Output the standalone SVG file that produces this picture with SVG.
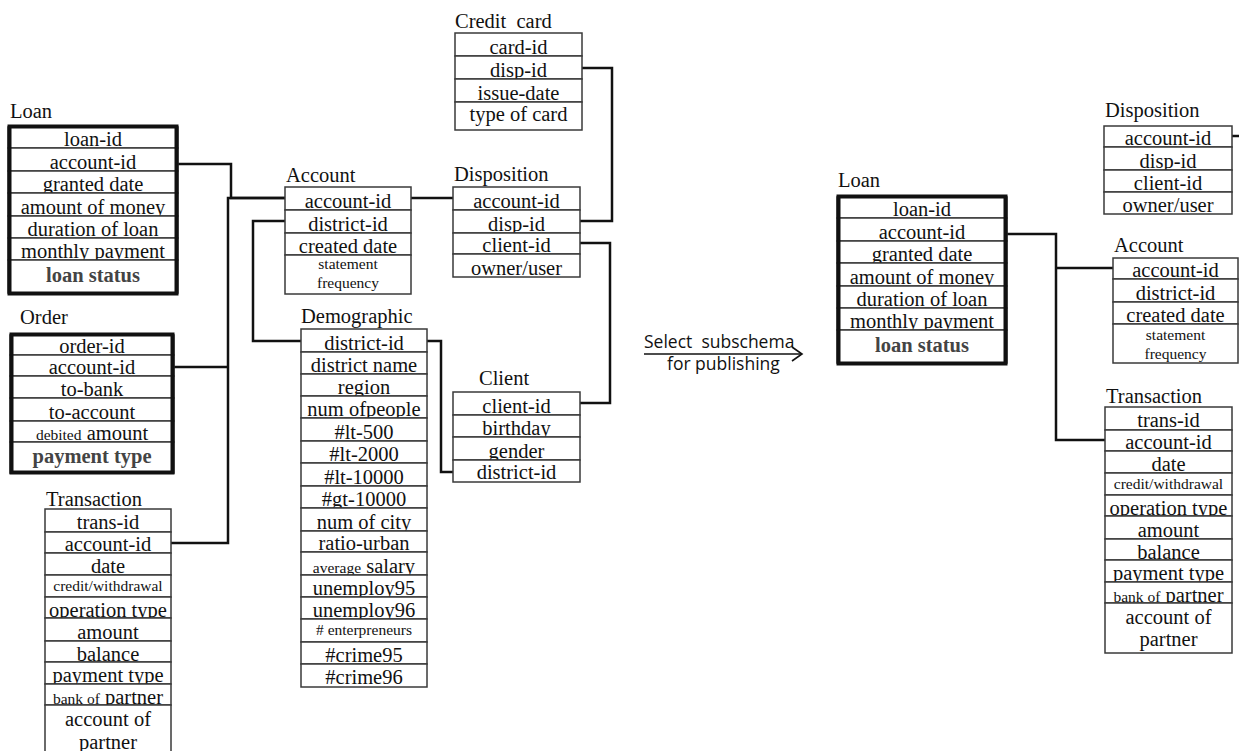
<svg xmlns="http://www.w3.org/2000/svg" width="1239" height="751" viewBox="0 0 1239 751">
<style>
.row{fill:#fff;stroke:#3a3a3a;stroke-width:1.5}
.frame{fill:none;stroke:#111;stroke-width:4}
.t{font-family:"Liberation Serif","Times New Roman",serif;font-size:20.5px;fill:#111;text-anchor:middle}
.sm{font-size:15.5px}
.b{font-weight:bold;fill:#444}
.ttl{font-family:"Liberation Serif","Times New Roman",serif;font-size:20.5px;fill:#111}
.c{fill:none;stroke:#111;stroke-width:2.5}
.sans{font-family:"Open Sans","Liberation Sans",sans-serif;font-size:17.5px;fill:#111}
.arr{fill:none;stroke:#111;stroke-width:1.6}
</style>
<rect width="1239" height="751" fill="#fff"/>

<g id="connectors">
<polyline class="c" points="178,164 231,164 231,198 285,198"/>
<polyline class="c" points="285,198 228,198 228,543 171,543"/>
<polyline class="c" points="174,367 228,367"/>
<polyline class="c" points="285,221 253,221 253,341 301,341"/>
<polyline class="c" points="411,198 453,198"/>
<polyline class="c" points="580,221 612,221 612,68 582,68"/>
<polyline class="c" points="580,243 610,243 610,403 580,403"/>
<polyline class="c" points="427,341 441,341 441,472 453,472"/>
<polyline class="c" points="1007,234 1056,234 1056,440 1105,440"/>
<polyline class="c" points="1056,268 1113,268"/>
<polyline class="c" points="1232,136 1239,136"/>
</g>

<g id="loan-left">
<text class="ttl" x="10" y="118">Loan</text>
<rect class="row" x="8" y="127" width="170" height="21"/><text class="t" x="93" y="146">loan-id</text>
<rect class="row" x="8" y="148" width="170" height="23"/><text class="t" x="93" y="169">account-id</text>
<rect class="row" x="8" y="171" width="170" height="22"/><text class="t" x="93" y="191">granted date</text>
<rect class="row" x="8" y="193" width="170" height="23"/><text class="t" x="93" y="214">amount of money</text>
<rect class="row" x="8" y="216" width="170" height="22"/><text class="t" x="93" y="236">duration of loan</text>
<rect class="row" x="8" y="238" width="170" height="22"/><text class="t" x="93" y="258">monthly payment</text>
<rect class="row" x="8" y="260" width="170" height="33"/><text class="t b" x="93" y="282">loan status</text>
<rect class="frame" x="9.5" y="126.5" width="167" height="167"/>
</g>

<g id="order">
<text class="ttl" x="20" y="324">Order</text>
<rect class="row" x="10" y="335" width="164" height="20"/><text class="t" x="92" y="353">order-id</text>
<rect class="row" x="10" y="355" width="164" height="21"/><text class="t" x="92" y="374">account-id</text>
<rect class="row" x="10" y="376" width="164" height="22"/><text class="t" x="92" y="396">to-bank</text>
<rect class="row" x="10" y="398" width="164" height="23"/><text class="t" x="92" y="419">to-account</text>
<rect class="row" x="10" y="421" width="164" height="21"/><text class="t" x="92" y="440"><tspan class="sm">debited</tspan> amount</text>
<rect class="row" x="10" y="442" width="164" height="31"/><text class="t b" x="92" y="463">payment type</text>
<rect class="frame" x="11.5" y="334.5" width="161" height="138"/>
</g>

<g id="transaction-left">
<text class="ttl" x="46" y="506">Transaction</text>
<rect class="row" x="45" y="509" width="126" height="23"/><text class="t" x="108" y="529">trans-id</text>
<rect class="row" x="45" y="532" width="126" height="21"/><text class="t" x="108" y="551">account-id</text>
<rect class="row" x="45" y="553" width="126" height="22"/><text class="t" x="108" y="573">date</text>
<rect class="row" x="45" y="575" width="126" height="22"/><text class="t sm" x="108" y="591">credit/withdrawal</text>
<rect class="row" x="45" y="597" width="126" height="21"/><text class="t" x="108" y="617">operation type</text>
<rect class="row" x="45" y="618" width="126" height="23"/><text class="t" x="108" y="639">amount</text>
<rect class="row" x="45" y="641" width="126" height="21"/><text class="t" x="108" y="661">balance</text>
<rect class="row" x="45" y="662" width="126" height="22"/><text class="t" x="108" y="682">payment type</text>
<rect class="row" x="45" y="684" width="126" height="21"/><text class="t" x="108" y="704"><tspan class="sm">bank of</tspan> partner</text>
<rect class="row" x="45" y="705" width="126" height="60"/><text class="t" x="108" y="726">account of</text><text class="t" x="108" y="749">partner</text>
</g>

<g id="account-mid">
<text class="ttl" x="286" y="182">Account</text>
<rect class="row" x="285" y="187" width="126" height="23"/><text class="t" x="348" y="208">account-id</text>
<rect class="row" x="285" y="210" width="126" height="23"/><text class="t" x="348" y="231">district-id</text>
<rect class="row" x="285" y="233" width="126" height="22"/><text class="t" x="348" y="253">created date</text>
<rect class="row" x="285" y="255" width="126" height="39"/><text class="t sm" x="348" y="269">statement</text><text class="t sm" x="348" y="288">frequency</text>
</g>

<g id="disposition-mid">
<text class="ttl" x="454" y="181">Disposition</text>
<rect class="row" x="453" y="187" width="127" height="23"/><text class="t" x="516.5" y="208">account-id</text>
<rect class="row" x="453" y="210" width="127" height="23"/><text class="t" x="516.5" y="231">disp-id</text>
<rect class="row" x="453" y="233" width="127" height="21"/><text class="t" x="516.5" y="252">client-id</text>
<rect class="row" x="453" y="254" width="127" height="23"/><text class="t" x="516.5" y="275">owner/user</text>
</g>

<g id="credit-card">
<text class="ttl" x="455" y="28">Credit&#160; card</text>
<rect class="row" x="455" y="33" width="127" height="23"/><text class="t" x="518.5" y="54">card-id</text>
<rect class="row" x="455" y="56" width="127" height="23"/><text class="t" x="518.5" y="77">disp-id</text>
<rect class="row" x="455" y="79" width="127" height="23"/><text class="t" x="518.5" y="100">issue-date</text>
<rect class="row" x="455" y="102" width="127" height="28"/><text class="t" x="518.5" y="121">type of card</text>
</g>

<g id="client">
<text class="ttl" x="479" y="385">Client</text>
<rect class="row" x="453" y="392" width="127" height="23"/><text class="t" x="516.5" y="413">client-id</text>
<rect class="row" x="453" y="415" width="127" height="22"/><text class="t" x="516.5" y="435">birthday</text>
<rect class="row" x="453" y="437" width="127" height="23"/><text class="t" x="516.5" y="458">gender</text>
<rect class="row" x="453" y="460" width="127" height="22"/><text class="t" x="516.5" y="479">district-id</text>
</g>

<g id="demographic">
<text class="ttl" x="301" y="323">Demographic</text>
<rect class="row" x="301" y="329" width="126" height="23"/><text class="t" x="364" y="350">district-id</text>
<rect class="row" x="301" y="352" width="126" height="22"/><text class="t" x="364" y="372">district name</text>
<rect class="row" x="301" y="374" width="126" height="22"/><text class="t" x="364" y="394">region</text>
<rect class="row" x="301" y="396" width="126" height="22"/><text class="t" x="364" y="416">num ofpeople</text>
<rect class="row" x="301" y="418" width="126" height="23"/><text class="t" x="364" y="439">#lt-500</text>
<rect class="row" x="301" y="441" width="126" height="22"/><text class="t" x="364" y="461">#lt-2000</text>
<rect class="row" x="301" y="463" width="126" height="23"/><text class="t" x="364" y="484">#lt-10000</text>
<rect class="row" x="301" y="486" width="126" height="22"/><text class="t" x="364" y="506">#gt-10000</text>
<rect class="row" x="301" y="508" width="126" height="23"/><text class="t" x="364" y="529">num of city</text>
<rect class="row" x="301" y="531" width="126" height="21"/><text class="t" x="364" y="550">ratio-urban</text>
<rect class="row" x="301" y="552" width="126" height="23"/><text class="t" x="364" y="573"><tspan class="sm">average</tspan> salary</text>
<rect class="row" x="301" y="575" width="126" height="22"/><text class="t" x="364" y="595">unemploy95</text>
<rect class="row" x="301" y="597" width="126" height="22"/><text class="t" x="364" y="617">unemploy96</text>
<rect class="row" x="301" y="619" width="126" height="23"/><text class="t sm" x="364" y="635"># enterpreneurs</text>
<rect class="row" x="301" y="642" width="126" height="22"/><text class="t" x="364" y="662">#crime95</text>
<rect class="row" x="301" y="664" width="126" height="23"/><text class="t" x="364" y="684">#crime96</text>
</g>

<g id="arrow-label">
<text class="sans" x="644" y="348" xml:space="preserve">Select  subschema</text>
<line class="arr" x1="644" y1="354" x2="802" y2="354"/>
<polyline class="arr" points="792,347 802,354 792,361"/>
<text class="sans" x="667" y="370">for publishing</text>
</g>

<g id="loan-right">
<text class="ttl" x="838" y="187">Loan</text>
<rect class="row" x="837" y="197" width="170" height="21"/><text class="t" x="922" y="216">loan-id</text>
<rect class="row" x="837" y="218" width="170" height="23"/><text class="t" x="922" y="239">account-id</text>
<rect class="row" x="837" y="241" width="170" height="22"/><text class="t" x="922" y="261">granted date</text>
<rect class="row" x="837" y="263" width="170" height="23"/><text class="t" x="922" y="284">amount of money</text>
<rect class="row" x="837" y="286" width="170" height="22"/><text class="t" x="922" y="306">duration of loan</text>
<rect class="row" x="837" y="308" width="170" height="22"/><text class="t" x="922" y="328">monthly payment</text>
<rect class="row" x="837" y="330" width="170" height="33"/><text class="t b" x="922" y="352">loan status</text>
<rect class="frame" x="838.5" y="196.5" width="167" height="167"/>
</g>

<g id="disposition-right">
<text class="ttl" x="1105" y="117">Disposition</text>
<rect class="row" x="1104" y="126" width="128" height="21"/><text class="t" x="1168" y="145">account-id</text>
<rect class="row" x="1104" y="147" width="128" height="23"/><text class="t" x="1168" y="168">disp-id</text>
<rect class="row" x="1104" y="170" width="128" height="22"/><text class="t" x="1168" y="190">client-id</text>
<rect class="row" x="1104" y="192" width="128" height="22"/><text class="t" x="1168" y="212">owner/user</text>
</g>

<g id="account-right">
<text class="ttl" x="1114" y="252">Account</text>
<rect class="row" x="1113" y="258" width="125" height="21"/><text class="t" x="1175.5" y="277">account-id</text>
<rect class="row" x="1113" y="279" width="125" height="23"/><text class="t" x="1175.5" y="300">district-id</text>
<rect class="row" x="1113" y="302" width="125" height="22"/><text class="t" x="1175.5" y="322">created date</text>
<rect class="row" x="1113" y="324" width="125" height="39"/><text class="t sm" x="1175.5" y="340">statement</text><text class="t sm" x="1175.5" y="359">frequency</text>
</g>

<g id="transaction-right">
<text class="ttl" x="1106" y="403">Transaction</text>
<rect class="row" x="1105" y="407" width="127" height="23"/><text class="t" x="1168.5" y="427">trans-id</text>
<rect class="row" x="1105" y="430" width="127" height="21"/><text class="t" x="1168.5" y="449">account-id</text>
<rect class="row" x="1105" y="451" width="127" height="22"/><text class="t" x="1168.5" y="471">date</text>
<rect class="row" x="1105" y="473" width="127" height="22"/><text class="t sm" x="1168.5" y="489">credit/withdrawal</text>
<rect class="row" x="1105" y="495" width="127" height="21"/><text class="t" x="1168.5" y="515">operation type</text>
<rect class="row" x="1105" y="516" width="127" height="23"/><text class="t" x="1168.5" y="537">amount</text>
<rect class="row" x="1105" y="539" width="127" height="21"/><text class="t" x="1168.5" y="559">balance</text>
<rect class="row" x="1105" y="560" width="127" height="22"/><text class="t" x="1168.5" y="580">payment type</text>
<rect class="row" x="1105" y="582" width="127" height="21"/><text class="t" x="1168.5" y="602"><tspan class="sm">bank of</tspan> partner</text>
<rect class="row" x="1105" y="603" width="127" height="50"/><text class="t" x="1168.5" y="624">account of</text><text class="t" x="1168.5" y="646">partner</text>
</g>
</svg>
